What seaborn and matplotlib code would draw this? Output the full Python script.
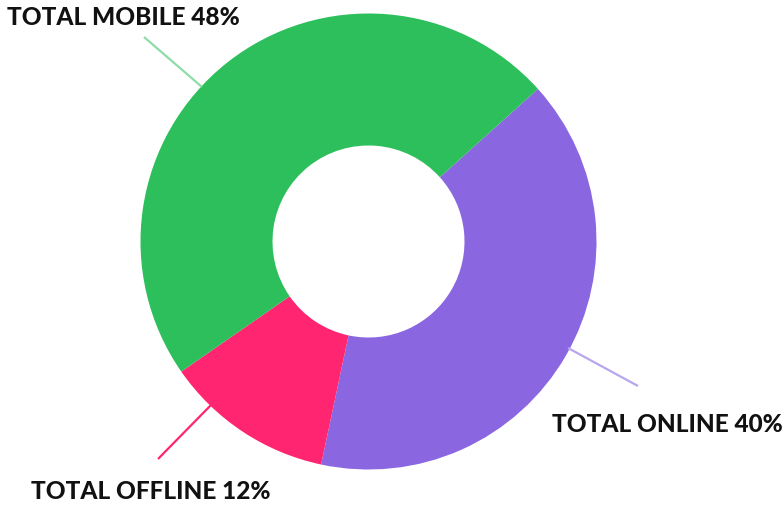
import matplotlib
matplotlib.use("Agg")
import matplotlib.pyplot as plt
import seaborn as sns

# Channel share data
channels = ["TOTAL ONLINE", "TOTAL OFFLINE", "TOTAL MOBILE"]
shares = [40, 12, 48]
colors = ["#8A66E0", "#FF2571", "#2DBF5B"]
line_colors = ["#B9A6EE", "#FF2571", "#8EDCA6"]

sns.set_theme(style="white")
plt.rcParams["font.family"] = ["Lato", "DejaVu Sans"]

W, H = 783, 506
fig = plt.figure(figsize=(W / 100, H / 100), dpi=100)
ax = fig.add_axes([0, 0, 1, 1])

cx, cy = 368.5, H - 242.5
r_out, r_in = 228, 96

ax.pie(shares, colors=colors, startangle=42, counterclock=False,
       center=(cx, cy), radius=r_out, frame=True,
       wedgeprops=dict(width=r_out - r_in, linewidth=0))
ax.set_xlim(0, W)
ax.set_ylim(0, H)
ax.set_aspect("equal")
ax.axis("off")

# Leader lines (pixel coordinates from top-left)
leaders = {
    "TOTAL ONLINE": ((568, 349), (638, 387)),
    "TOTAL OFFLINE": ((212, 405), (158, 460)),
    "TOTAL MOBILE": ((144, 38), (202, 88)),
}
label_pos = {
    "TOTAL ONLINE": (552, 432),
    "TOTAL OFFLINE": (31, 499),
    "TOTAL MOBILE": (7, 25),
}
for name, share, lc in zip(channels, shares, line_colors):
    (x0, y0), (x1, y1) = leaders[name]
    ax.plot([x0, x1], [H - y0, H - y1], color=lc, lw=1.6, solid_capstyle="butt")
    tx, ty = label_pos[name]
    ax.text(tx, H - ty, f"{name} {share}%", fontsize=17.6, fontweight="black",
            color="#111111", ha="left", va="baseline")

fig.savefig("out.png", dpi=100, facecolor="white")
